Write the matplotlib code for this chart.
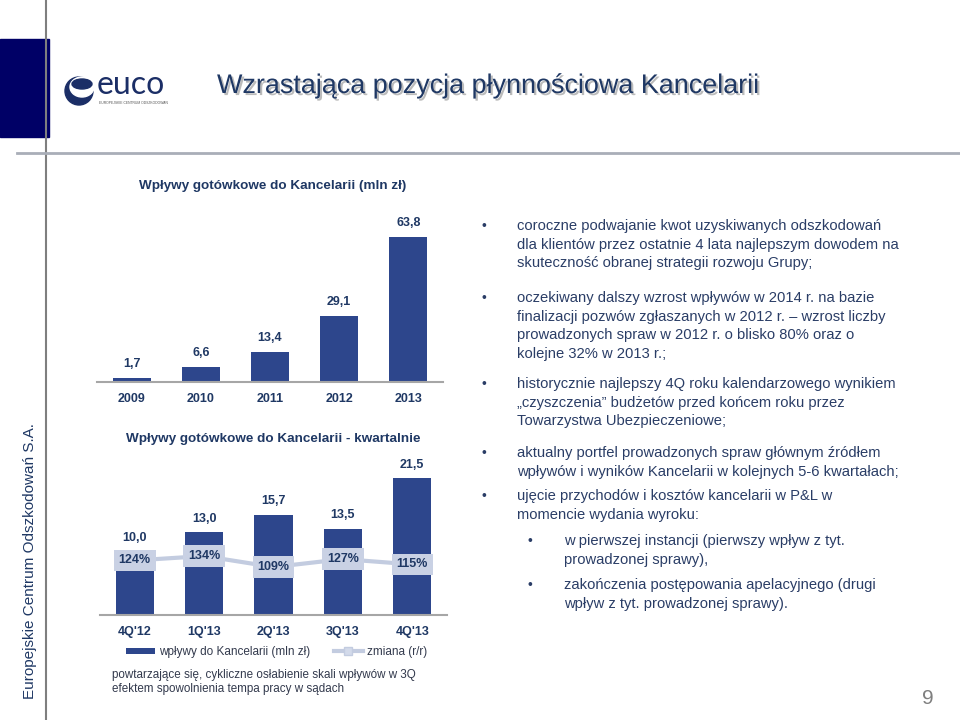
import matplotlib
matplotlib.use("Agg")
import matplotlib.pyplot as plt
import matplotlib.patches as mpatches
import matplotlib.patheffects as pe
from matplotlib.lines import Line2D

plt.rcParams['font.family'] = ['Liberation Sans', 'DejaVu Sans']

# ---------------- data ----------------
years = ['2009', '2010', '2011', '2012', '2013']
annual_inflows = [1.7, 6.6, 13.4, 29.1, 63.8]
annual_labels = ['1,7', '6,6', '13,4', '29,1', '63,8']

quarters = ["4Q'12", "1Q'13", "2Q'13", "3Q'13", "4Q'13"]
quarterly_inflows = [10.0, 13.0, 15.7, 13.5, 21.5]
quarterly_labels = ['10,0', '13,0', '15,7', '13,5', '21,5']
yoy_change = [124, 134, 109, 127, 115]

title = 'Wzrastająca pozycja płynnościowa Kancelarii'
chart1_title = 'Wpływy gotówkowe do Kancelarii (mln zł)'
chart2_title = 'Wpływy gotówkowe do Kancelarii - kwartalnie'
legend_labels = ['wpływy do Kancelarii (mln zł)', 'zmiana (r/r)']
note_lines = ['powtarzające się, cykliczne osłabienie skali wpływów w 3Q',
              'efektem spowolnienia tempa pracy w sądach']
side_text = 'Europejskie Centrum Odszkodowań S.A.'

bullets = [
    (0, ['coroczne podwajanie kwot uzyskiwanych odszkodowań',
         'dla klientów przez ostatnie 4 lata najlepszym dowodem na',
         'skuteczność obranej strategii rozwoju Grupy;']),
    (0, ['oczekiwany dalszy wzrost wpływów w 2014 r. na bazie',
         'finalizacji pozwów zgłaszanych w 2012 r. – wzrost liczby',
         'prowadzonych spraw w 2012 r. o blisko 80% oraz o',
         'kolejne 32% w 2013 r.;']),
    (0, ['historycznie najlepszy 4Q roku kalendarzowego wynikiem',
         '„czyszczenia” budżetów przed końcem roku przez',
         'Towarzystwa Ubezpieczeniowe;']),
    (0, ['aktualny portfel prowadzonych spraw głównym źródłem',
         'wpływów i wyników Kancelarii w kolejnych 5-6 kwartałach;']),
    (0, ['ujęcie przychodów i kosztów kancelarii w P&L w',
         'momencie wydania wyroku:']),
    (1, ['w pierwszej instancji (pierwszy wpływ z tyt.',
         'prowadzonej sprawy),']),
    (1, ['zakończenia postępowania apelacyjnego (drugi',
         'wpływ z tyt. prowadzonej sprawy).']),
]
bullet_y = [226, 298, 384, 453, 496, 541, 585]

# ---------------- style ----------------
W, H = 960, 720
NAVY = '#1F3864'
BAR = '#2D468C'
LINE = '#C3CCE0'
BOX = '#C9D1E4'
TEXT = '#2A3D66'

fig = plt.figure(figsize=(W / 100, H / 100), dpi=100)


def fx(x):
    return x / W


def fy(y):
    return 1 - y / H


def axes_px(left, top, right, bottom):
    return fig.add_axes([fx(left), fy(bottom), (right - left) / W, (bottom - top) / H])


# ---------------- slide decorations ----------------
fig.add_artist(mpatches.Rectangle((fx(0), fy(137)), fx(49), (137 - 39) / H,
                                  transform=fig.transFigure, color='#000066', zorder=1))
fig.add_artist(Line2D([fx(46), fx(46)], [0, 1], transform=fig.transFigure,
                      color='#7F7F7F', lw=1.5, zorder=2))
fig.add_artist(Line2D([fx(17), 1], [fy(153), fy(153)], transform=fig.transFigure,
                      color='#A9AEB8', lw=2, zorder=2))

# logo
fig.add_artist(mpatches.Ellipse((fx(79), fy(91)), 28 / W, 28 / H, transform=fig.transFigure,
                                color='#1B2E66', zorder=3))
fig.add_artist(mpatches.Ellipse((fx(82), fy(87)), 24 / W, 20 / H, transform=fig.transFigure,
                                color='white', zorder=4))
fig.add_artist(mpatches.Ellipse((fx(82), fy(84)), 20 / W, 10 / H, transform=fig.transFigure,
                                color='#1B2E66', zorder=5))
fig.text(fx(97), fy(94), 'euco', fontsize=23, color='#1B2E66', family=['Lato', 'DejaVu Sans'],
         ha='left', va='baseline')
fig.text(fx(99), fy(101.5), 'EUROPEJSKIE CENTRUM ODSZKODOWAŃ', fontsize=2.4, color='#555555',
         ha='left', va='top')

fig.text(fx(217), fy(86), title, fontsize=19.4, color=NAVY, ha='left', va='center',
         path_effects=[pe.SimplePatchShadow(offset=(1.5, -1.5), shadow_rgbFace='#8f8f8f', alpha=0.6),
                       pe.Normal()])

fig.text(fx(30), fy(561), side_text, rotation=90, fontsize=11, color=NAVY,
         ha='center', va='center')
fig.text(fx(928), fy(698), '9', fontsize=15, color='#7F7F7F', ha='center', va='center')

# ---------------- chart 1: annual ----------------
fig.text(fx(273), fy(186), chart1_title, fontsize=9.7, fontweight='bold', color=NAVY,
         ha='center', va='center')
ax1 = axes_px(97, 215, 443, 382)
x1 = range(len(years))
ax1.bar(x1, annual_inflows, width=0.55, color=BAR, zorder=2)
ax1.set_xlim(-0.5, len(years) - 0.5)
ax1.set_ylim(0, 73.5)
for i, (v, lab) in enumerate(zip(annual_inflows, annual_labels)):
    ax1.annotate(lab, (i, v), xytext=(0, 10), textcoords='offset points', ha='center',
                 va='center', fontsize=9, fontweight='bold', color=NAVY)
ax1.set_xticks(list(x1))
ax1.set_xticklabels(years, fontsize=9, fontweight='bold', color=NAVY)
ax1.tick_params(axis='x', length=0, pad=8)
ax1.set_yticks([])
for s in ['top', 'right', 'left']:
    ax1.spines[s].set_visible(False)
ax1.spines['bottom'].set_color('#A6A6A6')
ax1.spines['bottom'].set_linewidth(1.5)
ax1.patch.set_alpha(0)

# ---------------- chart 2: quarterly ----------------
fig.text(fx(273), fy(439), chart2_title, fontsize=9.7, fontweight='bold', color=NAVY,
         ha='center', va='center')
ax2 = axes_px(100, 455, 447, 615)
x2 = list(range(len(quarters)))
bars2 = ax2.bar(x2, quarterly_inflows, width=0.55, color=BAR, zorder=2, label=legend_labels[0])
ax2.set_xlim(-0.5, len(quarters) - 0.5)
ymax2 = 160 / 6.35
ax2.set_ylim(0, ymax2)
for i, (v, lab) in enumerate(zip(quarterly_inflows, quarterly_labels)):
    ax2.annotate(lab, (i, v), xytext=(0, 10), textcoords='offset points', ha='center',
                 va='center', fontsize=9, fontweight='bold', color=NAVY)
ax2.set_xticks(x2)
ax2.set_xticklabels(quarters, fontsize=9, fontweight='bold', color=NAVY)
ax2.tick_params(axis='x', length=0, pad=8)
ax2.set_yticks([])
for s in ['top', 'right', 'left']:
    ax2.spines[s].set_visible(False)
ax2.spines['bottom'].set_color('#A6A6A6')
ax2.spines['bottom'].set_linewidth(1.5)

ax3 = ax2.twinx()
ax3.set_ylim(0, 160 / 0.44)
line, = ax3.plot(x2, yoy_change, color=LINE, lw=3.0, marker='s', ms=6,
                 mfc='#D3DAEA', mec=LINE, zorder=3, label=legend_labels[1])
for i, p in enumerate(yoy_change):
    ax3.text(i, p, f'{p}%', ha='center', va='center', fontsize=9, fontweight='bold',
             color=NAVY, zorder=4,
             bbox=dict(boxstyle='square,pad=0.38', fc=BOX, ec='none'))
ax3.set_yticks([])
for s in ax3.spines.values():
    s.set_visible(False)

leg = fig.legend([bars2, line], legend_labels, loc='center left',
                 bbox_to_anchor=(fx(115), fy(652)), ncol=2, frameon=False,
                 fontsize=8.5, handlelength=2.5, handleheight=0.45, columnspacing=2.0,
                 handletextpad=0.3, labelcolor='#333A4D')

fig.text(fx(112), fy(675), note_lines[0], fontsize=8.4, color='#333A4D', ha='left', va='center')
fig.text(fx(112), fy(689), note_lines[1], fontsize=8.4, color='#333A4D', ha='left', va='center')

# ---------------- bullets ----------------
for (lvl, lines), y0 in zip(bullets, bullet_y):
    bx = 481 if lvl == 0 else 528
    tx = 517 if lvl == 0 else 564
    fig.text(fx(bx), fy(y0), '•', fontsize=10, color=TEXT, ha='left', va='center')
    for k, ln in enumerate(lines):
        fig.text(fx(tx), fy(y0 + k * 18.7), ln, fontsize=10.65, color=TEXT,
                 ha='left', va='center')

fig.savefig('out.png', dpi=100)
